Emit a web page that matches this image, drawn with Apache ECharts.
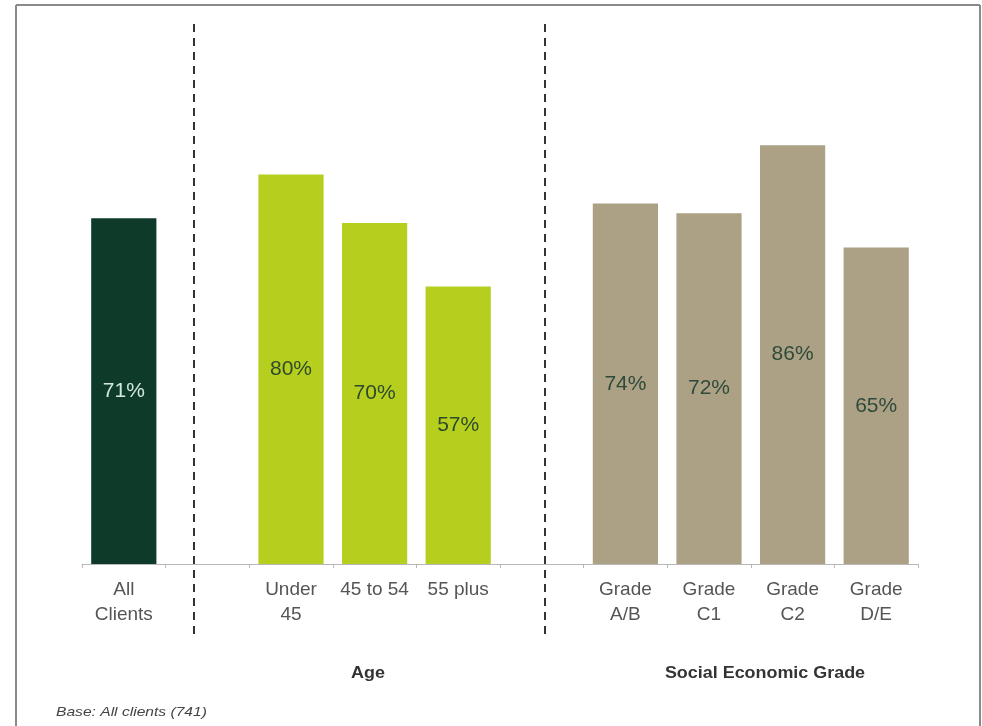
<!DOCTYPE html>
<html>
<head>
<meta charset="utf-8">
<script src="https://cdn.jsdelivr.net/npm/echarts@6/dist/echarts.min.js"></script>
<style>
  html, body { margin: 0; padding: 0; background: #ffffff; }
  #chart { width: 982px; height: 726px; }
</style>
</head>
<body>
<div id="chart"></div>
<script>
// Categories (blank entries are spacer slots between the groups)
const categories = ['All\nClients', '', 'Under\n45', '45 to 54', '55 plus', ' ', 'Grade\nA/B', 'Grade\nC1', 'Grade\nC2', 'Grade\nD/E'];
// Share of clients, percent
const values = [71, null, 80, 70, 57, null, 74, 72, 86, 65];
// Group of each category: 0 = all, 1 = age, 2 = social grade
const groups = [0, null, 1, 1, 1, null, 2, 2, 2, 2];
const groupColors = ['#0e3a2a', '#b6cf1f', '#ada185'];
const groupLabelColors = ['#d2e8df', '#2e4a2c', '#2e4a3a'];
const groupTitles = ['Age', 'Social Economic Grade'];
const baseNote = 'Base: All clients (741)';

const chart = echarts.init(document.getElementById('chart'));

const barData = values.map((v, i) => v === null ? null : {
  value: v,
  itemStyle: { color: groupColors[groups[i]] },
  label: { color: groupLabelColors[groups[i]] }
});

const dashed = { stroke: '#333333', lineWidth: 2, lineDash: [8, 6] };
const fontFam = 'Liberation Sans, Arial, sans-serif';

chart.setOption({
  animation: false,
  backgroundColor: '#ffffff',
  grid: { left: 82, right: 64, top: 77, bottom: 162, containLabel: false },
  xAxis: {
    type: 'category',
    data: categories,
    axisLine: { lineStyle: { color: '#b8b8b8', width: 1 } },
    axisTick: { show: true, length: 4, lineStyle: { color: '#b8b8b8' } },
    axisLabel: {
      color: '#555555',
      fontFamily: fontFam,
      fontSize: 19,
      lineHeight: 25,
      margin: 13,
      interval: 0
    }
  },
  yAxis: {
    type: 'value',
    min: 0,
    max: 100,
    show: false,
    splitLine: { show: false }
  },
  series: [{
    type: 'bar',
    data: barData,
    barWidth: '78%',
    label: {
      show: true,
      position: 'inside',
      formatter: '{c}%',
      fontFamily: fontFam,
      fontSize: 21
    }
  }],
  graphic: [
    // frame
    { type: 'line', shape: { x1: 16, y1: 5, x2: 980, y2: 5 }, style: { stroke: '#8a8a8a', lineWidth: 2 } },
    { type: 'line', shape: { x1: 16, y1: 5, x2: 16, y2: 726 }, style: { stroke: '#8a8a8a', lineWidth: 2 } },
    { type: 'line', shape: { x1: 980, y1: 5, x2: 980, y2: 726 }, style: { stroke: '#8a8a8a', lineWidth: 2 } },
    // group dividers
    { type: 'line', shape: { x1: 194, y1: 24, x2: 194, y2: 638 }, style: dashed },
    { type: 'line', shape: { x1: 545, y1: 24, x2: 545, y2: 638 }, style: dashed },
    // group titles
    { type: 'text', x: 368, y: 674, scaleX: 1.12, style: { text: groupTitles[0], fill: '#333333', font: 'bold 16px ' + fontFam, textAlign: 'center', textVerticalAlign: 'middle' } },
    { type: 'text', x: 765, y: 674, scaleX: 1.12, style: { text: groupTitles[1], fill: '#333333', font: 'bold 16px ' + fontFam, textAlign: 'center', textVerticalAlign: 'middle' } },
    { type: 'text', x: 56, y: 712, scaleX: 1.2, style: { text: baseNote, fill: '#444444', font: 'italic 13px ' + fontFam, textAlign: 'left', textVerticalAlign: 'middle' } }
  ]
});
</script>
</body>
</html>
